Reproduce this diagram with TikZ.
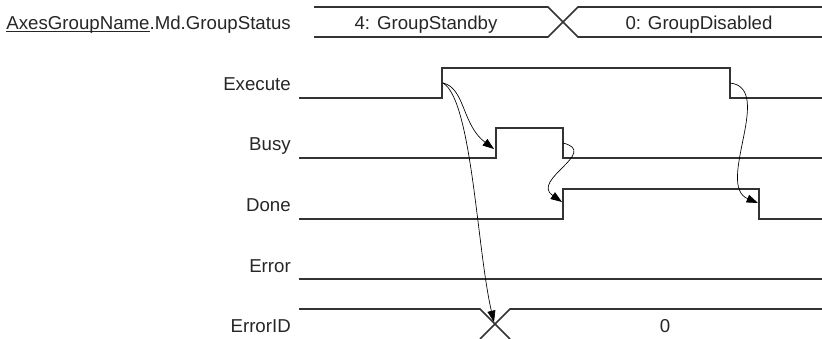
\documentclass[tikz,border=0pt]{standalone}
\usepackage{fontspec}
\setmainfont{Liberation Sans}
\usepackage{xcolor}
\usetikzlibrary{arrows.meta,positioning,calc}
\definecolor{WaveGray}{HTML}{333333}
\definecolor{TextGray}{HTML}{262626}
\tikzset{
  wave/.style={draw=WaveGray,line width=1.2pt,line join=miter},
  flow/.style={-{Triangle[length=8.5pt,width=6pt]},draw=black,line width=0.5pt},
  siglabel/.style={anchor=base east,text=TextGray,inner sep=0pt,
    font=\fontsize{14}{16}\selectfont},
  busvalue/.style={siglabel,anchor=base}
}

\begin{document}
\begin{tikzpicture}[x=0.75pt,y=-0.75pt]
  \useasboundingbox (0,0) rectangle (822,339);
  % signal names
  \node[siglabel] (status) at (291,29) {\underline{\smash{AxesGroupName}}.Md.GroupStatus};
  \node[siglabel] (execute) at (291,90) {Execute};
  \node[siglabel] (busy) at (291,150) {Busy};
  \node[siglabel] (done) at (291,211) {Done};
  \node[siglabel] (error) at (291,272) {Error};
  \node[siglabel] (errorid) at (291,332) {ErrorID};
  % bus values
  \node[busvalue] (standby) at (426,29) {4: GroupStandby};
  \node[busvalue] (disabled) at (699,29) {0: GroupDisabled};
  \node[busvalue] (idzero) at (665,332) {0};
  % waveforms
  \draw[wave] (314,7) -- (548,7) -- (578,37) -- (822,37);
  \draw[wave] (314,37) -- (548,37) -- (578,7) -- (822,7);
  \draw[wave] (299,98) -- (442,98) -- (442,68) -- (730,68) -- (730,98) -- (822,98);
  \draw[wave] (299,158) -- (496,158) -- (496,128) -- (563,128) -- (563,158) -- (822,158);
  \draw[wave] (299,219) -- (563,219) -- (563,189) -- (759,189) -- (759,219) -- (822,219);
  \draw[wave] (299,279) -- (822,279);
  \draw[wave] (299,309) -- (480,309) -- (495,324) -- (510,339);
  \draw[wave] (822,309) -- (510,309) -- (495,324) -- (480,339);
  % edge points
  \coordinate (exeRise) at (443,83);
  \coordinate (busyRise) at (494,149);
  \coordinate (idCross) at (494,322);
  \coordinate (busyFall) at (563,143);
  \coordinate (doneRise) at (562,202);
  \coordinate (exeFall) at (730,83);
  \coordinate (doneFall) at (758,203);
  % cause -> effect
  \draw[flow] (exeRise) .. controls (465,88) and (462,125) .. (busyRise);
  \draw[flow] (exeRise) .. controls (472,100) and (477,250) .. (idCross);
  \draw[flow] (busyFall) .. controls (600,152) and (530,180) .. (doneRise);
  \draw[flow] (exeFall) .. controls (775,88) and (715,185) .. (doneFall);
\end{tikzpicture}
\end{document}
